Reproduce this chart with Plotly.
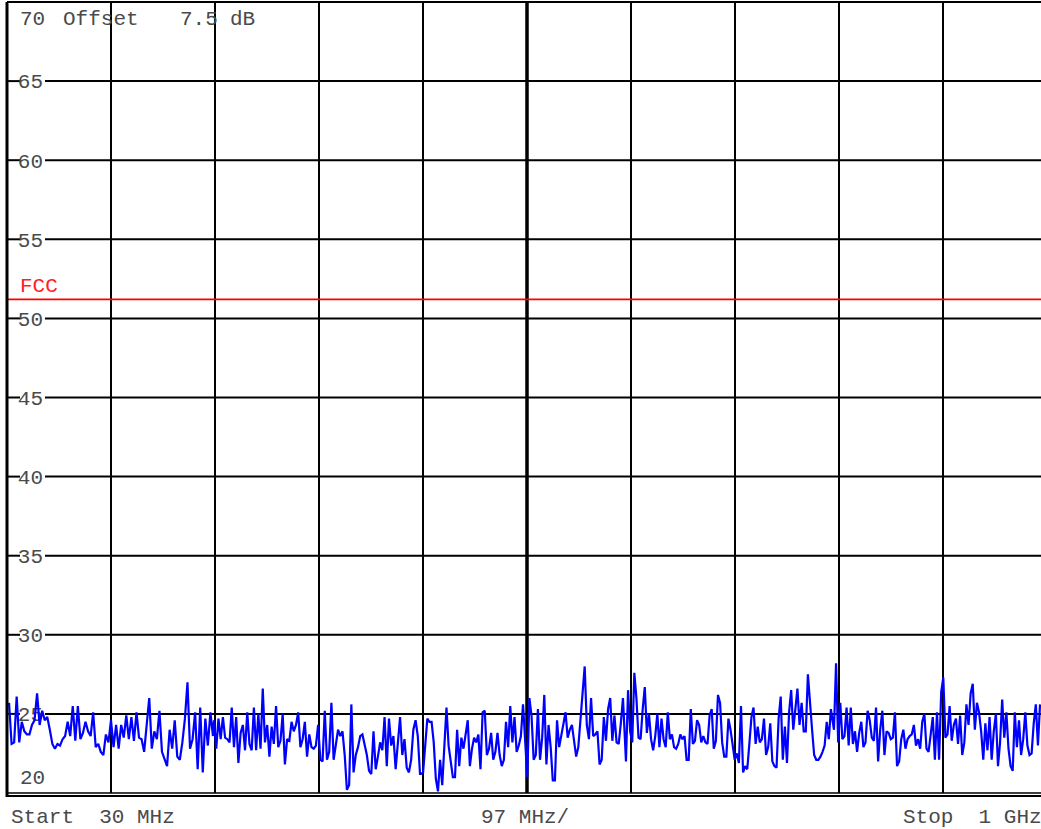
import numpy as np
import plotly.graph_objects as go

# ---------------- data (dBuV) ----------------
start_mhz = 30
span_per_div = 97
ref_level = 70
bottom_level = 20
fcc_limit = 51.2
level_ticks = [25, 30, 35, 40, 45, 50, 55, 60, 65]

# sweep segments: (first MHz, last MHz) and levels
seg_a_range = (31.9, 222.1)
sweep_a = [25.7, 23.1, 23.2, 26.1, 23.2, 24.5, 23.9, 23.7, 23.7, 24.3, 24.6, 26.3, 24.3, 25.2, 24.6, 24.8,
           24.0, 23.1, 22.8, 23.1, 23.0, 23.4, 23.6, 24.5, 23.6, 25.5, 23.3, 25.5, 23.4, 23.8, 24.5, 23.9,
           23.6, 25.1, 22.9, 23.1, 22.6, 22.4, 23.7, 23.2, 24.6, 22.9, 24.3, 22.8, 24.3, 23.5, 24.9, 23.4,
           24.8, 23.3, 25.1, 23.5, 23.4, 22.6, 24.3, 26.0, 22.8, 23.9, 23.4, 25.2, 22.6, 22.1, 21.7, 24.0,
           22.8, 24.6, 22.3, 22.1, 23.2, 24.7, 27.0, 22.8, 23.4, 25.1, 21.5, 25.4, 21.3, 24.7, 23.0, 25.1, 23.6]

seg_b_range = (223.1, 415.2)
sweep_b = [24.6, 22.8, 24.7, 23.4, 24.8, 23.5, 23.4, 23.2, 25.4, 22.9, 24.8, 21.9, 23.8, 24.3, 22.7, 25.1,
           23.1, 22.7, 25.4, 22.7, 25.0, 22.8, 26.6, 23.2, 24.3, 22.3, 24.2, 23.1, 25.5, 22.9, 23.3, 25.0,
           21.8, 23.4, 23.3, 24.5, 23.9, 24.3, 25.1, 22.9, 23.4, 24.5, 22.3, 23.7, 22.9, 22.8, 23.0, 24.3,
           22.1, 22.0, 25.2, 22.1, 22.6, 25.7, 22.1, 23.0, 24.0, 23.6, 23.9, 22.4, 20.2, 20.5, 25.6, 21.3,
           22.4, 22.9, 23.6, 23.7, 23.0, 22.4, 21.4, 21.2, 23.9, 21.5, 22.3, 23.2, 22.7, 24.8, 21.7, 24.7,
           23.0, 23.6, 21.5, 23.4, 24.8, 22.4, 23.4, 21.6, 21.3, 22.1, 24.0, 24.6, 23.6, 21.2]

seg_c_range = (416.1, 604.5)
sweep_c = [21.2, 21.3, 22.8, 24.7, 24.5, 24.5, 23.2, 20.9, 20.1, 22.1, 20.5, 23.4, 25.4, 23.0, 22.1, 21.0,
           21.0, 24.0, 21.7, 23.5, 22.8, 23.6, 24.6, 21.7, 22.8, 23.5, 23.2, 23.7, 21.5, 25.1, 25.2, 22.4,
           22.8, 23.8, 22.1, 22.6, 23.8, 22.4, 21.7, 22.1, 24.5, 22.9, 25.5, 23.2, 24.8, 22.6, 23.0, 23.6,
           25.6, 23.3, 21.0, 26.0, 24.9, 22.1, 22.4, 25.3, 22.1, 23.5, 26.2, 21.8, 24.3, 22.9, 20.8, 20.8,
           24.6, 22.9, 23.6, 24.3, 25.1, 23.5, 24.0, 24.3, 23.2, 22.3, 22.9, 24.8, 26.3, 28.0, 24.3, 23.4,
           26.0, 23.6, 23.7, 23.9, 21.8, 22.1, 24.8, 23.3, 25.3, 26.0, 23.3, 24.9, 23.2, 23.1, 24.4, 26.0]

seg_d_range = (607.3, 800.4)
sweep_d = [22.0, 26.5, 23.9, 23.2, 27.6, 26.0, 23.5, 23.4, 25.3, 26.7, 23.8, 25.0, 23.4, 22.7, 23.6, 25.0,
           22.9, 24.7, 23.4, 22.9, 25.1, 23.4, 23.7, 22.9, 22.8, 23.1, 23.7, 23.4, 23.6, 22.1, 22.1, 25.3,
           23.1, 23.3, 24.6, 24.3, 23.2, 23.6, 23.2, 23.1, 24.9, 25.3, 22.8, 23.3, 26.2, 25.7, 23.2, 22.3,
           22.3, 24.7, 24.0, 23.1, 22.1, 22.5, 21.9, 25.5, 21.3, 21.7, 21.5, 23.1, 24.8, 25.4, 23.1, 24.2,
           23.2, 23.4, 24.7, 22.4, 22.9, 24.4, 22.0, 21.7, 21.6, 24.7, 26.1, 22.1, 24.2, 21.9, 25.1, 26.5,
           24.0, 25.3, 26.6, 24.3, 25.7, 23.9, 23.9, 27.5, 25.5, 24.0, 22.4, 22.1, 22.1, 22.3, 22.6, 23.0,
           24.5, 23.4, 25.3, 24.3]

seg_e_range = (801.3, 993.5)
sweep_e = [24.0, 28.2, 23.2, 25.7, 23.4, 23.6, 25.4, 23.0, 25.4, 23.1, 23.9, 22.6, 23.8, 24.5, 22.9, 23.2,
           25.2, 24.6, 23.5, 23.3, 25.4, 22.0, 24.0, 25.2, 22.4, 23.9, 23.8, 23.4, 23.5, 25.1, 21.7, 22.0,
           23.4, 24.0, 22.8, 23.4, 23.6, 23.7, 24.3, 23.0, 23.4, 22.8, 24.5, 25.0, 22.8, 22.6, 23.9, 24.8,
           22.1, 25.1, 22.1, 26.4, 27.3, 23.5, 23.7, 25.5, 23.3, 24.3, 24.7, 23.1, 24.9, 22.4, 23.2, 25.6,
           24.3, 26.3, 26.9, 24.0, 25.7, 25.1, 23.9, 22.1, 24.4, 22.7, 24.8, 22.1, 23.9, 25.0, 21.7, 23.2,
           25.9, 23.5, 25.1, 22.8, 21.7, 21.4, 25.1, 22.9, 24.6, 22.4, 23.4, 25.1, 23.0, 22.4, 22.5, 24.4,
           25.6, 23.0, 25.6]

segments = [(seg_a_range, sweep_a), (seg_b_range, sweep_b), (seg_c_range, sweep_c),
            (seg_d_range, sweep_d), (seg_e_range, sweep_e)]
freq = np.concatenate([np.linspace(r[0], r[1], len(v)) for r, v in segments])
level = np.concatenate([np.array(v) for _, v in segments])

# ---------------- styling ----------------
MONO = "Liberation Mono, Courier New, monospace"
TXT = "#4a4a4a"
W, H = 1041, 829
L_PX, T_PX, B_PX = 7, 2, 793
DIV_PX = 104  # screen width of one frequency division (last division runs past the window)
plot_w = W - L_PX
plot_h = B_PX - T_PX
x_end = start_mhz + span_per_div * plot_w / DIV_PX


def px_x(px):
    return (px - L_PX) / plot_w


fig = go.Figure()

fig.add_trace(go.Scatter(x=[start_mhz, x_end], y=[fcc_limit, fcc_limit], mode="lines",
                         line=dict(color="#ff0000", width=1.6), hoverinfo="skip", showlegend=False))
fig.add_trace(go.Scatter(x=freq, y=level, mode="lines",
                         line=dict(color="#0000ff", width=2.2), showlegend=False))

shapes = []
# horizontal grid lines with a gap for the level labels
for v in level_ticks:
    for x0, x1 in [(0, px_x(20)), (px_x(45), 1)]:
        shapes.append(dict(type="line", xref="paper", yref="y", x0=x0, x1=x1, y0=v, y1=v,
                           line=dict(color="black", width=2), layer="below"))
# thick centre line
shapes.append(dict(type="line", xref="x", yref="paper", x0=start_mhz + 5 * span_per_div,
                   x1=start_mhz + 5 * span_per_div, y0=0, y1=1,
                   line=dict(color="black", width=3.5), layer="below"))
# frame
shapes.append(dict(type="line", xref="paper", yref="paper", x0=0, x1=0, y0=-4 / plot_h, y1=1,
                   line=dict(color="black", width=3)))
shapes.append(dict(type="line", xref="paper", yref="paper", x0=0, x1=1, y0=1, y1=1,
                   line=dict(color="black", width=2)))
shapes.append(dict(type="line", xref="paper", yref="paper", x0=0, x1=1, y0=0, y1=0,
                   line=dict(color="black", width=1.6)))
shapes.append(dict(type="line", xref="paper", yref="paper", x0=0, x1=1, y0=-3 / plot_h, y1=-3 / plot_h,
                   line=dict(color="black", width=1.8)))

font = dict(family=MONO, size=21, color=TXT)
annotations = [
    dict(text=str(ref_level), x=px_x(18), y=ref_level, yshift=-17),
    dict(text="Offset", x=px_x(61), y=ref_level, yshift=-17),
    dict(text="7.5", x=px_x(178), y=ref_level, yshift=-17),
    dict(text="dB", x=px_x(228), y=ref_level, yshift=-17),
    dict(text=str(bottom_level), x=px_x(18), y=bottom_level, yshift=15),
    dict(text="FCC", x=px_x(18), y=fcc_limit, yshift=13, font=dict(family=MONO, size=21, color="#ff2020")),
]
for a in annotations:
    a.update(xref="paper", yref="y", xanchor="left", yanchor="middle", showarrow=False)
    a.setdefault("font", font)

bottom = [("Start  30 MHz", 9), ("97 MHz/", 479), ("Stop  1 GHz", 901)]
for t, px in bottom:
    annotations.append(dict(text=t, x=px_x(px), y=0, xref="paper", yref="paper", xanchor="left",
                            yanchor="middle", yshift=-24, showarrow=False, font=font))

fig.update_layout(
    width=W, height=H,
    margin=dict(l=L_PX, r=0, t=T_PX, b=H - B_PX),
    paper_bgcolor="white", plot_bgcolor="white",
    showlegend=False,
    shapes=shapes, annotations=annotations,
    xaxis=dict(range=[start_mhz, x_end], tickvals=[start_mhz + k * span_per_div for k in range(11)],
               showticklabels=False, showgrid=True, gridcolor="black", gridwidth=2,
               zeroline=False, showline=False, ticks="", fixedrange=True),
    yaxis=dict(range=[bottom_level, ref_level], tickvals=level_ticks, ticklabelposition="inside",
               ticks="inside", ticklen=12, tickcolor="rgba(0,0,0,0)",
               tickfont=dict(family=MONO, size=21, color=TXT),
               showgrid=False, zeroline=False, showline=False, layer="below traces",
               fixedrange=True),
)

fig.write_html("out.html", config={"displayModeBar": False},
               post_script="document.body.style.margin='0';")
